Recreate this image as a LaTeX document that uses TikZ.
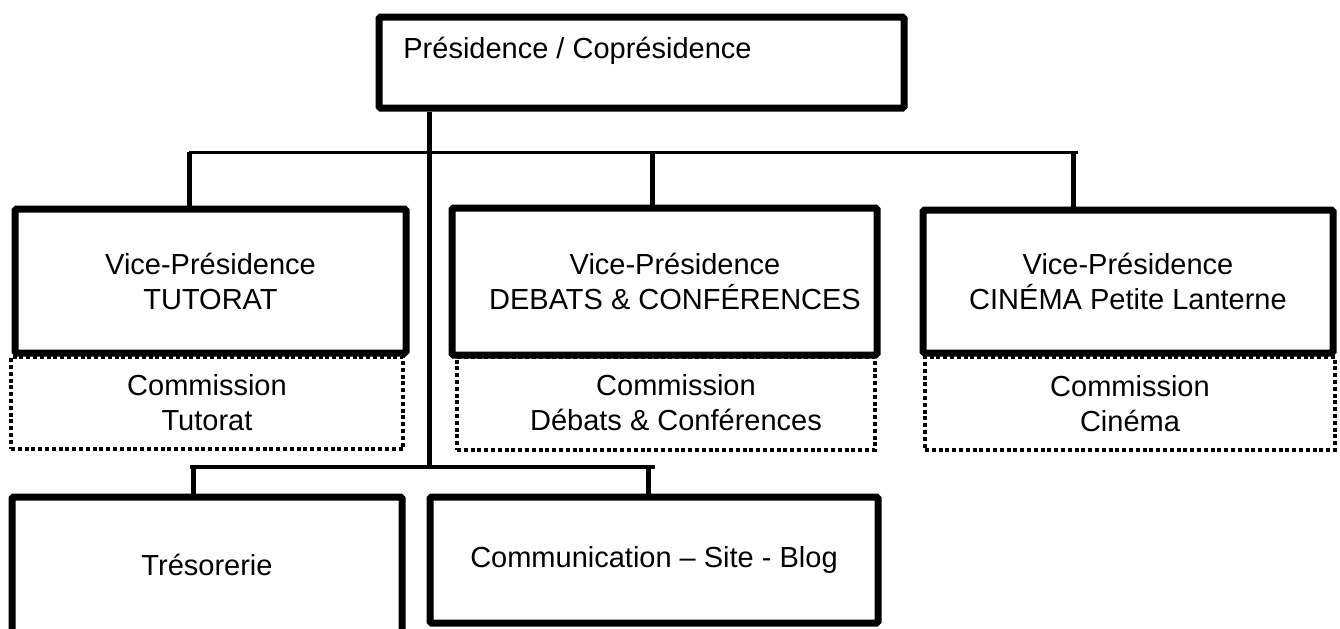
\documentclass[tikz,border=0pt]{standalone}
\usepackage{fontspec}
\setmainfont{Liberation Sans}
\usepackage{tikz}

\tikzset{
  box/.style={draw, line width=3.5pt, rounded corners=0.8pt, align=center, inner sep=0pt},
  combox/.style={draw, line width=2pt, dash pattern=on 2pt off 1.4pt, align=center, inner sep=0pt},
  trunk/.style={line width=2.5pt},
  topbar/.style={line width=1.5pt},
  lowbar/.style={line width=2pt},
  drop/.style={line width=2.5pt},
}

\begin{document}
\begin{tikzpicture}[x=0.5pt,y=0.5pt,yscale=-1,xscale=1,font=\fontsize{14.5}{17.5}\selectfont]
\clip (0,0) rectangle (1340,628);

% Presidence
\node[box, minimum width=262.5pt, minimum height=45.5pt] (pres) at (641.5,62.5) {};
\node[anchor=base west, inner sep=0pt] (prestext) at (403,58) {Présidence / Coprésidence};

% Vice-presidences
\node[box, minimum width=195.5pt, minimum height=72pt] (vp1) at (210.5,281) {Vice-Présidence\\TUTORAT};
\node[box, minimum width=212.5pt, minimum height=73.5pt] (vp2) at (664.5,281.5) {};
\node[align=center, inner sep=0pt] (vp2text) at (675,281) {Vice-Présidence\\DEBATS \& CONFÉRENCES};
\node[box, minimum width=205pt, minimum height=71.5pt] (vp3) at (1128,281.5) {Vice-Présidence\\CINÉMA Petite Lanterne};

% Commissions
\node[combox, minimum width=196pt, minimum height=46pt] (com1) at (207,403) {Commission\\Tutorat};
\node[combox, minimum width=209pt, minimum height=46.5pt] (com2) at (666,403.5) {};
\node[align=center, inner sep=0pt] (com2text) at (676,403) {Commission\\Débats \& Conférences};
\node[combox, minimum width=205pt, minimum height=46.5pt] (com3) at (1130,403.5) {Commission\\Cinéma};

% Tresorerie et communication
\node[box, minimum width=195pt, minimum height=68pt] (treso) at (207,565) {Trésorerie};
\node[box, minimum width=224pt, minimum height=63pt] (comm) at (654,560) {Communication – Site - Blog};

% junctions
\coordinate (barL) at (189,152);
\coordinate (barM) at (652,152);
\coordinate (barR) at (1073,152);
\coordinate (barEnd) at (1078,152);
\coordinate (lowL) at (193,467);
\coordinate (lowR) at (648,467);
\coordinate (lowMid) at (429,467);

\draw[trunk] (pres.south -| lowMid) -- (lowMid);
\draw[topbar] (barL) -- (barEnd);
\draw[drop] (barL) -- (barL |- vp1.north);
\draw[drop] (barM) -- (barM |- vp2.north);
\draw[drop] (barR) -- (barR |- vp3.north);
\draw[lowbar] ([xshift=-1.5pt]lowL) -- ([xshift=3.5pt]lowR);
\draw[drop] (lowL) -- (lowL |- treso.north);
\draw[drop] (lowR) -- (lowR |- comm.north);

\end{tikzpicture}
\end{document}
